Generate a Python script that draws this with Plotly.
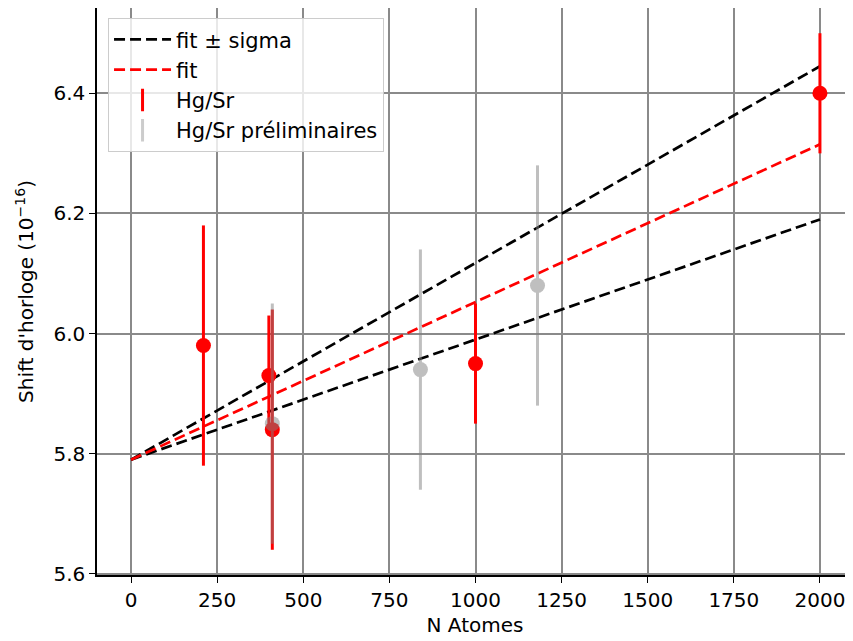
import plotly.graph_objects as go

# Data
hg_x = [210, 400, 410, 1000, 2000]
hg_y = [5.98, 5.93, 5.84, 5.95, 6.40]
hg_err = [0.20, 0.10, 0.20, 0.10, 0.10]

pre_x = [410, 840, 1180]
pre_y = [5.85, 5.94, 6.08]
pre_err = [0.20, 0.20, 0.20]

fit_x = [0, 2000]
fit_y = [5.79, 6.315]
fit_hi = [5.79, 6.445]
fit_lo = [5.79, 6.19]

x_ticks = [0, 250, 500, 750, 1000, 1250, 1500, 1750, 2000]
y_ticks = [5.6, 5.8, 6.0, 6.2, 6.4]

FONT = "DejaVu Sans"
FS = 20
fig = go.Figure()

dash = "11px,5px"
fig.add_trace(go.Scatter(x=fit_x, y=fit_hi, mode="lines", name="fit ± sigma",
                         line=dict(color="black", width=2.7, dash=dash),
                         legendgroup="g1"))
fig.add_trace(go.Scatter(x=fit_x, y=fit_lo, mode="lines", name="fit ± sigma",
                         line=dict(color="black", width=2.7, dash=dash),
                         legendgroup="g1", showlegend=False))
fig.add_trace(go.Scatter(x=fit_x, y=fit_y, mode="lines", name="fit",
                         line=dict(color="red", width=2.7, dash=dash),
                         legendgroup="g2"))

fig.add_trace(go.Scatter(x=hg_x, y=hg_y, mode="markers", name="Hg/Sr",
                         marker=dict(color="red", size=15),
                         error_y=dict(type="data", array=hg_err, color="red",
                                      thickness=3, width=0),
                         legendgroup="g3", showlegend=False))
fig.add_trace(go.Scatter(x=pre_x, y=pre_y, mode="markers", name="Hg/Sr préliminaires",
                         marker=dict(color="gray", size=15),
                         error_y=dict(type="data", array=pre_err, color="gray",
                                      thickness=3, width=0),
                         opacity=0.5, legendgroup="g4", showlegend=False))

# legend glyphs for error-bar series
fig.add_trace(go.Scatter(x=[None], y=[None], mode="markers", name="Hg/Sr",
                         marker=dict(symbol="line-ns", size=20,
                                     line=dict(color="red", width=3)),
                         legendgroup="g3"))
fig.add_trace(go.Scatter(x=[None], y=[None], mode="markers", name="Hg/Sr préliminaires",
                         marker=dict(symbol="line-ns", size=20,
                                     line=dict(color="rgba(128,128,128,0.4)", width=3)),
                         legendgroup="g4"))

axis_common = dict(
    showgrid=True, gridcolor="#8a8a8a", gridwidth=1.5,
    zeroline=False, showline=True, linecolor="black", linewidth=1.5,
    ticks="outside", ticklen=6, tickwidth=1.2, tickcolor="black",
    tickfont=dict(family=FONT, size=FS, color="black"),
    automargin=False,
)

fig.update_layout(
    width=845, height=633,
    margin=dict(l=89, r=0, t=0, b=66),
    paper_bgcolor="white", plot_bgcolor="white",
    font=dict(family=FONT, size=FS, color="black"),
    showlegend=True,
    legend=dict(x=0.0146, y=0.982, xanchor="left", yanchor="top",
                bgcolor="rgba(255,255,255,0.8)", bordercolor="#cccccc",
                borderwidth=1, font=dict(family=FONT, size=21, color="black"),
                traceorder="grouped", tracegroupgap=0, itemwidth=57),
    xaxis=dict(range=[-99, 2096], tickvals=x_ticks, mirror=True,
               title=dict(text="N Atomes", font=dict(family=FONT, size=FS), standoff=7),
               **axis_common),
    yaxis=dict(range=[5.598, 6.542], tickvals=y_ticks, tickformat=".1f",
               title=dict(text="Shift d'horloge (10<sup>−16</sup>)",
                          font=dict(family=FONT, size=FS), standoff=14),
               **axis_common),
)

fig.write_html("out.html")
